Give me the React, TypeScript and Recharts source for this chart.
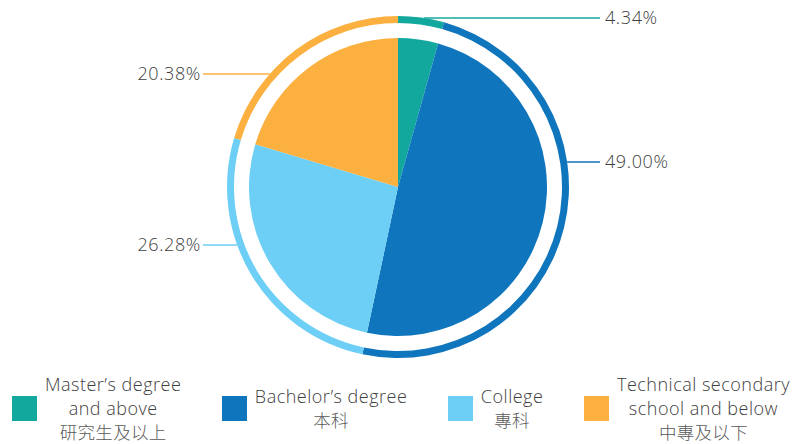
import { PieChart, Pie, Cell, Legend } from "recharts";

// education breakdown (percent)
const CATEGORIES_EN = ["Master’s degree\nand above", "Bachelor’s degree", "College", "Technical secondary\nschool and below"];
const CATEGORIES_ZH = ["研究生及以上", "本科", "專科", "中專及以下"];
const VALUES = [4.34, 49.0, 26.28, 20.38];
const COLORS = ["#13a89e", "#0f75bc", "#6dcff6", "#fbb040"];

// vertical offset of each callout relative to the pie centre (layout only)
const LABEL_DY = [-169, -25, 58, -113];

const data = VALUES.map((v, i) => ({ name: CATEGORIES_EN[i], zh: CATEGORIES_ZH[i], value: v }));

const FONT = "'Open Sans', 'Noto Sans CJK SC', sans-serif";

const renderLabel = (props: any) => {
  const { cx, cy, outerRadius, index, midAngle, value } = props;
  const dy = LABEL_DY[index];
  const right = Math.cos((midAngle * Math.PI) / 180) > 0;
  const dx = Math.sqrt(Math.max(outerRadius * outerRadius - dy * dy, 0));
  const x0 = right ? cx + dx : cx - dx;
  const y = cy + dy;
  const x1 = right ? cx + 202 : cx - 195;
  return (
    <g>
      <line x1={x0} y1={y} x2={x1} y2={y} stroke={COLORS[index]} strokeWidth={1.5} />
      <text
        x={right ? x1 + 5 : x1 - 2}
        y={y}
        dy={6}
        textAnchor={right ? "start" : "end"}
        fill="#404040"
        fontSize={18}
        fontFamily={FONT}
        fontWeight={300}
        letterSpacing={0.6}
      >
        {value.toFixed(2)}%
      </text>
    </g>
  );
};

const LegendContent = () => (
  <div
    style={{
      display: "flex",
      justifyContent: "space-between",
      alignItems: "center",
      padding: "0 3px 0 12px",
      fontFamily: FONT,
      height: 74,
    }}
  >
    {data.map((d, i) => (
      <div key={i} style={{ display: "flex", alignItems: "center" }}>
        <div style={{ width: 25, height: 25, background: COLORS[i], marginRight: 8, flexShrink: 0 }} />
        <div style={{ textAlign: "center", lineHeight: "24px", fontSize: 18, fontWeight: 300, letterSpacing: 0.5 }}>
          {d.name.split("\n").map((line, j) => (
            <div key={j} style={{ color: "#404040" }}>{line}</div>
          ))}
          <div style={{ color: "#595959", fontSize: 17.5, letterSpacing: 0.3 }}>{d.zh}</div>
        </div>
      </div>
    ))}
  </div>
);

export default function App() {
  return (
    <div style={{ position: "absolute", left: 0, top: 0, background: "#fff" }}>
      <PieChart width={793} height={444} margin={{ top: 0, right: 0, bottom: 0, left: 0 }}>
        <Pie
          data={data}
          dataKey="value"
          cx={398}
          cy={187}
          outerRadius={149}
          startAngle={90}
          endAngle={-270}
          stroke="none"
          isAnimationActive={false}
        >
          {data.map((_, i) => (
            <Cell key={i} fill={COLORS[i]} />
          ))}
        </Pie>
        <Pie
          data={data}
          dataKey="value"
          cx={398}
          cy={187}
          innerRadius={164}
          outerRadius={171}
          startAngle={90}
          endAngle={-270}
          stroke="none"
          label={renderLabel}
          labelLine={false}
          isAnimationActive={false}
        >
          {data.map((_, i) => (
            <Cell key={i} fill={COLORS[i]} />
          ))}
        </Pie>
        <Legend
          content={<LegendContent />}
          wrapperStyle={{ position: "absolute", left: 0, top: 371, width: 793 }}
        />
      </PieChart>
    </div>
  );
}
